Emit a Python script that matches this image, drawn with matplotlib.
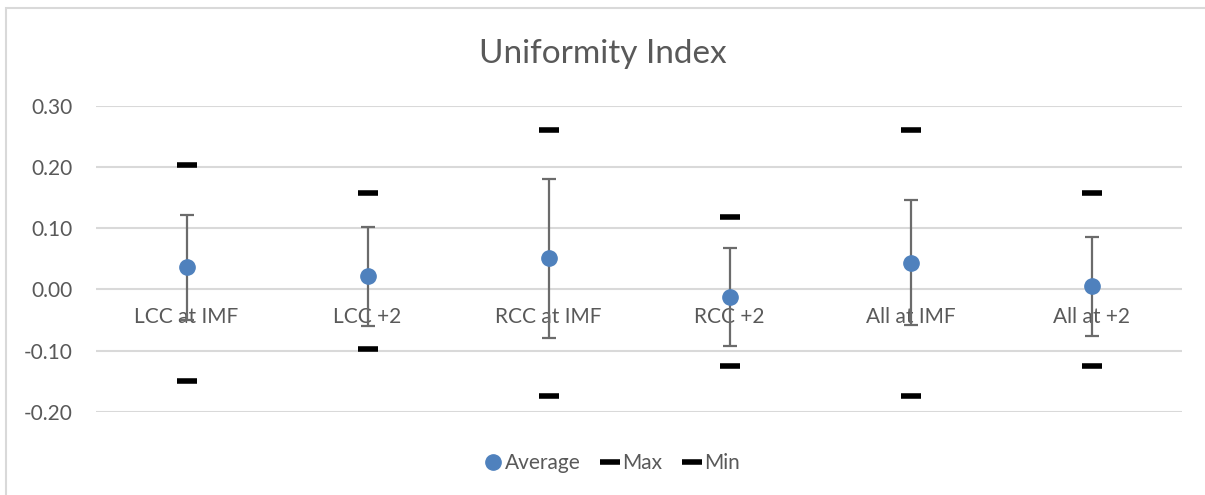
import matplotlib
matplotlib.use("Agg")
from matplotlib import pyplot as plt
from matplotlib.patches import Rectangle
import numpy as np

categories = ["LCC at IMF", "LCC +2", "RCC at IMF", "RCC +2", "All at IMF", "All at +2"]
average = [0.036, 0.022, 0.051, -0.012, 0.044, 0.005]
max_vals = [0.203, 0.157, 0.260, 0.119, 0.260, 0.157]
min_vals = [-0.149, -0.097, -0.175, -0.125, -0.175, -0.125]
bar_top = [0.122, 0.102, 0.181, 0.068, 0.146, 0.086]
bar_bottom = [-0.050, -0.060, -0.079, -0.092, -0.059, -0.077]
yticks = [-0.20, -0.10, 0.00, 0.10, 0.20, 0.30]

plt.rcParams['font.family'] = ['Lato', 'DejaVu Sans']
text_col = '#595959'

fig = plt.figure(figsize=(12.05, 4.95), dpi=100, facecolor='w')
ax = fig.add_axes([96/1205, 1 - 411.7/495, 1086/1205, (411.7 - 106)/495])

# chart area border (cropped on right/bottom in original)
fig.patches.append(Rectangle((6/1205, -0.1), 1.2, 1 - 8/495 + 0.1, transform=fig.transFigure,
                             fill=False, edgecolor='#d9d9d9', lw=1.5))

x = np.arange(len(categories))
avg = np.array(average)
yerr = [avg - np.array(bar_bottom), np.array(bar_top) - avg]

ax.errorbar(x, avg, yerr=yerr, fmt='none', ecolor='#6b6b6b', elinewidth=1.6,
            capsize=5, capthick=1.6, zorder=3)
ax.plot(x, average, 'o', color='#4f81bd', markersize=11, label='Average', zorder=4, linestyle='none')
ax.plot(x, max_vals, '_', color='black', markersize=15, markeredgewidth=4, label='Max', linestyle='none', zorder=4)
ax.plot(x, min_vals, '_', color='black', markersize=15, markeredgewidth=4, label='Min', linestyle='none', zorder=4)

ax.set_xlim(-0.5, len(categories) - 0.5)
ax.set_ylim(-0.2, 0.3)
ax.set_yticks(yticks)
ax.set_yticklabels(['%.2f' % v for v in yticks])
ax.grid(axis='y', color='#d9d9d9', lw=1.5)
ax.set_axisbelow(True)
for s in ax.spines.values():
    s.set_visible(False)
ax.spines['bottom'].set_position(('data', 0))
ax.set_xticks(x)
ax.set_xticklabels(categories)
ax.tick_params(axis='both', length=0, labelsize=15, colors=text_col)
ax.tick_params(axis='x', pad=13)
ax.tick_params(axis='y', pad=17)

fig.text(0.5, 1 - 54/495, 'Uniformity Index', ha='center', va='center', fontsize=24, color=text_col)

leg = fig.legend(loc='center', bbox_to_anchor=(0.508, 1 - 463/495), ncol=3, frameon=False,
                 fontsize=15, handlelength=0.8, handletextpad=0.2, columnspacing=1.0)
for t in leg.get_texts():
    t.set_color(text_col)

plt.savefig('out.png', dpi=100)
